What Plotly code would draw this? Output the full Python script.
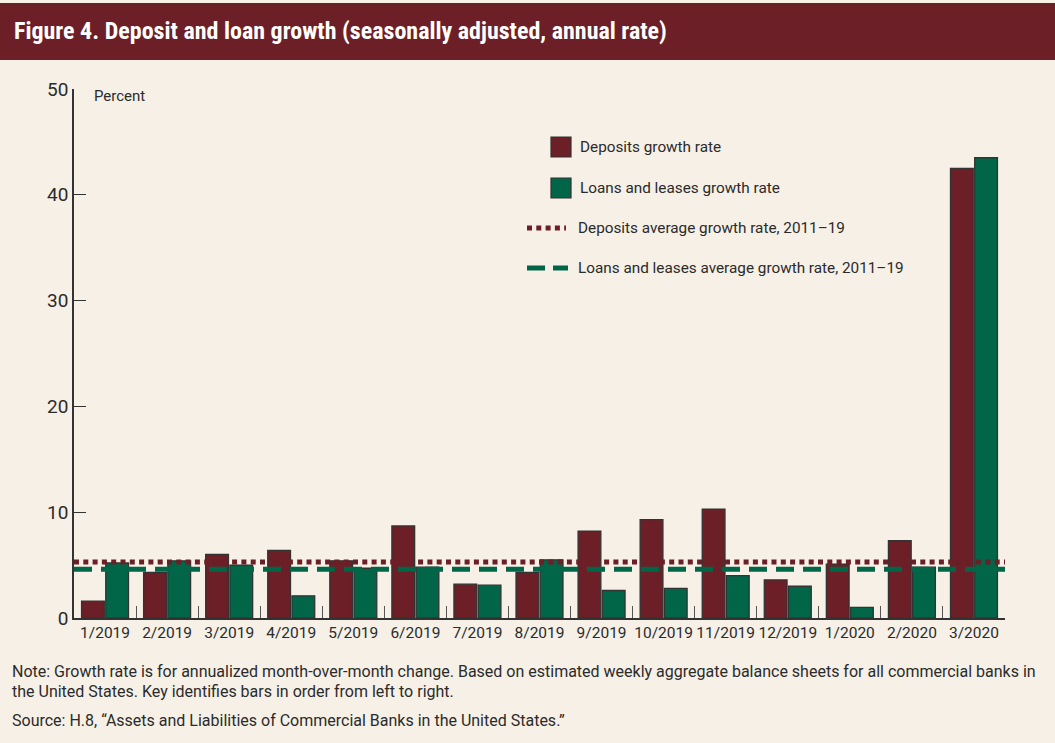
import plotly.graph_objects as go

months = ["1/2019", "2/2019", "3/2019", "4/2019", "5/2019", "6/2019", "7/2019", "8/2019",
          "9/2019", "10/2019", "11/2019", "12/2019", "1/2020", "2/2020", "3/2020"]
deposits = [1.6, 4.3, 6.0, 6.4, 5.4, 8.7, 3.2, 4.3, 8.2, 9.3, 10.3, 3.6, 5.1, 7.3, 42.5]
loans = [5.2, 5.4, 5.0, 2.1, 4.7, 4.8, 3.1, 5.5, 2.6, 2.8, 4.0, 3.0, 1.0, 4.8, 43.5]
dep_avg = 5.3
loan_avg = 4.6
y_ticks = [0, 10, 20, 30, 40, 50]

W, H = 1055, 743
L, R, T, B = 74, 1005, 89, 618
PW, PH = R - L, B - T

def px(x):
    return (x - L) / PW

def py(y):
    return (B - y) / PH

RED = "#6C1F26"
GREEN = "#006647"
BG = "#F6F0E6"
TXT = "#2B2B2B"
FONT = "Roboto, Liberation Sans, sans-serif"
TFONT = "Liberation Sans Narrow, Roboto Condensed, DejaVu Sans Condensed, sans-serif"

fig = go.Figure()
fig.add_trace(go.Bar(x=months, y=deposits, name="Deposits growth rate",
                     marker=dict(color=RED, line=dict(color="#333333", width=1.3)),
                     showlegend=False))
fig.add_trace(go.Bar(x=months, y=loans, name="Loans and leases growth rate",
                     marker=dict(color=GREEN, line=dict(color="#333333", width=1.3)),
                     showlegend=False))

shapes = []
# average lines
shapes.append(dict(type="line", xref="x domain", yref="y", x0=0.0, x1=1.0, y0=dep_avg, y1=dep_avg,
                   line=dict(color=RED, width=5, dash="5px,4.3px"), layer="above"))
shapes.append(dict(type="line", xref="x domain", yref="y", x0=0.0, x1=1.0, y0=loan_avg, y1=loan_avg,
                   line=dict(color=GREEN, width=5, dash="18px,9px"), layer="above"))
# title band
shapes.append(dict(type="rect", xref="paper", yref="paper", x0=px(0), x1=px(W), y0=py(60), y1=py(3),
                   fillcolor=RED, line=dict(width=0), layer="below"))
# legend keys
shapes.append(dict(type="rect", xref="paper", yref="paper", x0=px(551), x1=px(571), y0=py(157), y1=py(137),
                   fillcolor=RED, line=dict(color="#333333", width=1.2)))
shapes.append(dict(type="rect", xref="paper", yref="paper", x0=px(551), x1=px(571), y0=py(198), y1=py(178),
                   fillcolor=GREEN, line=dict(color="#333333", width=1.2)))
shapes.append(dict(type="line", xref="paper", yref="paper", x0=px(527), x1=px(566), y0=py(228), y1=py(228),
                   line=dict(color=RED, width=5, dash="5px,4.3px")))
shapes.append(dict(type="line", xref="paper", yref="paper", x0=px(527), x1=px(568), y0=py(268), y1=py(268),
                   line=dict(color=GREEN, width=5, dash="18px,8px")))

annotations = []
annotations.append(dict(text="<b>Figure 4. Deposit and loan growth (seasonally adjusted, annual rate)</b>",
                        xref="paper", yref="paper", x=px(12), y=py(31), xanchor="left", yanchor="middle",
                        showarrow=False, font=dict(family=TFONT, size=24, color="white")))
annotations.append(dict(text="Percent", xref="paper", yref="paper", x=px(92), y=py(96),
                        xanchor="left", yanchor="middle", showarrow=False,
                        font=dict(family=FONT, size=15, color=TXT)))
legend_items = [("Deposits growth rate", 578, 147), ("Loans and leases growth rate", 578, 188),
                ("Deposits average growth rate, 2011\u201319", 576, 228),
                ("Loans and leases average growth rate, 2011\u201319", 576, 268)]
for txt, x, y in legend_items:
    annotations.append(dict(text=txt, xref="paper", yref="paper", x=px(x), y=py(y),
                            xanchor="left", yanchor="middle", showarrow=False,
                            font=dict(family=FONT, size=15.3, color=TXT)))
notes = [("Note: Growth rate is for annualized month-over-month change. Based on estimated weekly aggregate balance sheets for all commercial banks in", 671),
         ("the United States. Key identifies bars in order from left to right.", 691),
         ("Source: H.8, \u201cAssets and Liabilities of Commercial Banks in the United States.\u201d", 720)]
for txt, y in notes:
    annotations.append(dict(text=txt, xref="paper", yref="paper", x=px(10), y=py(y),
                            xanchor="left", yanchor="middle", showarrow=False,
                            font=dict(family=FONT, size=16, color=TXT)))

fig.update_layout(
    width=W, height=H,
    margin=dict(l=L, r=W - R, t=T, b=H - B, pad=0),
    paper_bgcolor=BG, plot_bgcolor=BG,
    barmode="group", bargap=0.22, bargroupgap=0.06,
    shapes=shapes, annotations=annotations,
    font=dict(family=FONT, color=TXT),
)
fig.update_xaxes(type="category", showgrid=False, showline=True, linecolor="#333333", linewidth=1.5,
                 ticks="inside", tickson="boundaries", ticklen=12, tickcolor="#555555", tickwidth=1.2,
                 tickangle=0, tickfont=dict(family=FONT, size=15.5, color=TXT), range=[-0.5, 14.5],
                 zeroline=False)
fig.update_yaxes(range=[0, 50], tickvals=y_ticks, showgrid=False, showline=True, linecolor="#333333",
                 linewidth=1.5, ticks="inside", ticklen=12, tickcolor="#333333", tickwidth=1.2,
                 tickfont=dict(family=FONT, size=19, color=TXT), zeroline=False)

fig.write_html("out.html")
